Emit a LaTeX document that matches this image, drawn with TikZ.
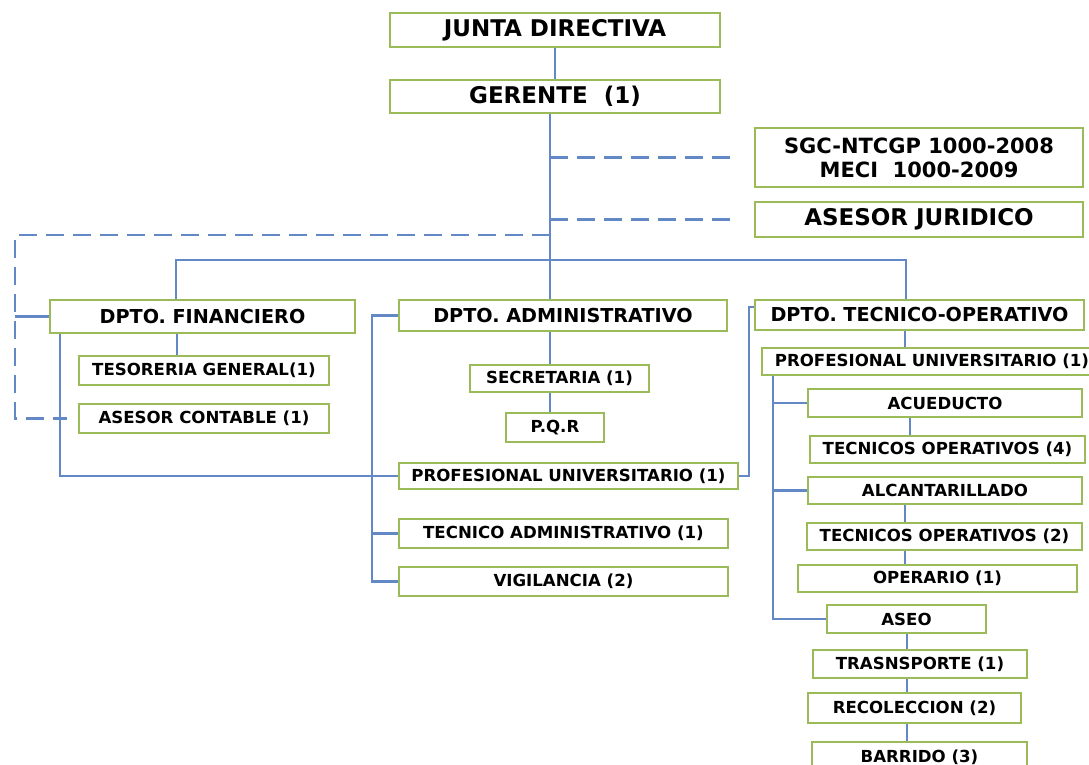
\documentclass[tikz,border=0pt]{standalone}
\usepackage{fontspec}
\setmainfont{DejaVu Sans}
\usetikzlibrary{backgrounds}
\definecolor{boxgreen}{HTML}{9BBB59}
\definecolor{linkblue}{HTML}{6289C6}
\begin{document}
\begin{tikzpicture}[x=1pt,y=-1pt,
  box/.style={draw=boxgreen, line width=2.3pt, fill=white, inner sep=0pt, text=black,
              font=\bfseries\fontsize{16.6}{18}\selectfont},
  midbox/.style={box, font=\bfseries\fontsize{19.2}{21}\selectfont},
  topbox/.style={box, font=\bfseries\fontsize{23}{25}\selectfont},
  conn/.style={draw=linkblue, line width=2.2pt},
  dashline/.style={draw=linkblue, line width=2.2pt, dash pattern=on 18pt off 9pt}]
\useasboundingbox (0,0) rectangle (1089,765);
% top level
\node[topbox, minimum width=330pt, minimum height=34pt] (junta) at (555,30) {JUNTA DIRECTIVA};
\node[topbox, minimum width=330pt, minimum height=33pt] (gerente) at (555,96.5) {GERENTE\ \ (1)};
\node[topbox, minimum width=328pt, minimum height=59pt, align=center,
      font=\bfseries\fontsize{21}{24}\selectfont] (sgc) at (919,157.5) {SGC-NTCGP 1000-2008\\MECI\ \ 1000-2009};
\node[topbox, minimum width=328pt, minimum height=35pt] (juridico) at (919,219.5) {ASESOR JURIDICO};
% departments
\node[midbox, minimum width=305pt, minimum height=33pt] (fin) at (202.5,316.5) {DPTO. FINANCIERO};
\node[midbox, minimum width=328pt, minimum height=31pt] (adm) at (563,315.5) {DPTO. ADMINISTRATIVO};
\node[midbox, minimum width=329pt, minimum height=30pt] (tec) at (919.5,315) {DPTO. TECNICO-OPERATIVO};
% financiero
\node[box, minimum width=250pt, minimum height=29pt] (teso) at (204,370.5) {TESORERIA GENERAL(1)};
\node[box, minimum width=250pt, minimum height=29pt] (contable) at (204,418.5) {ASESOR CONTABLE (1)};
% administrativo
\node[box, minimum width=179pt, minimum height=27pt] (secre) at (559.5,378.5) {SECRETARIA (1)};
\node[box, minimum width=98pt, minimum height=29pt] (pqr) at (555,427.5) {P.Q.R};
\node[box, minimum width=339pt, minimum height=26pt] (profa) at (568.5,476) {PROFESIONAL UNIVERSITARIO (1)};
\node[box, minimum width=329pt, minimum height=29pt] (tecadm) at (563.5,533.5) {TECNICO ADMINISTRATIVO (1)};
\node[box, minimum width=329pt, minimum height=29pt] (vig) at (563.5,581.5) {VIGILANCIA (2)};
% tecnico-operativo
\node[box, minimum width=340pt, minimum height=27pt] (proft) at (932,361.5) {PROFESIONAL UNIVERSITARIO (1)};
\node[box, minimum width=274pt, minimum height=28pt] (acue) at (945,403) {ACUEDUCTO};
\node[box, minimum width=275pt, minimum height=27pt] (tec4) at (947.5,449.5) {TECNICOS OPERATIVOS (4)};
\node[box, minimum width=274pt, minimum height=27pt] (alca) at (945,490.5) {ALCANTARILLADO};
\node[box, minimum width=275pt, minimum height=27pt] (tec2) at (944.5,536.5) {TECNICOS OPERATIVOS (2)};
\node[box, minimum width=279pt, minimum height=27pt] (oper) at (937.5,578.5) {OPERARIO (1)};
\node[box, minimum width=159pt, minimum height=28pt] (aseo) at (906.5,619) {ASEO};
\node[box, minimum width=214pt, minimum height=28pt] (trans) at (920,664) {TRASNSPORTE (1)};
\node[box, minimum width=213pt, minimum height=30pt] (reco) at (914.5,708) {RECOLECCION (2)};
\node[box, minimum width=215pt, minimum height=30pt] (barr) at (919.5,757) {BARRIDO (3)};
% helper coordinates
\coordinate (bus) at (550,260);
\coordinate (dla) at (550,235);
\coordinate (dlb) at (15,235);
\coordinate (ab) at (372,315);
\coordinate (pk) at (749,307);
\coordinate (tb) at (773,375);
\coordinate (tx) at (905,0);
\coordinate (tx2) at (910,0);
\coordinate (tx3) at (907,0);
\begin{scope}[on background layer]
\draw[conn] (junta) -- (gerente);
\draw[conn] ([xshift=-5pt]gerente.south) -- (adm.north -| bus);
\draw[conn] ([xshift=-26.5pt]fin.north) |- (bus) -| ([xshift=-13.5pt]tec.north);
\draw[dashline] (sgc.west -| bus) -- ([xshift=-17pt]sgc.west);
\draw[dashline] (juridico.west -| bus) -- ([xshift=-17pt]juridico.west);
\draw[dashline] (dla) -- (dlb) |- ([xshift=-11pt]contable.west);
\draw[conn] (fin.west) -- (fin.west -| dlb);
\draw[conn] ([xshift=-25.5pt]fin.south) -- ([xshift=-27pt]teso.north);
\draw[conn] ([xshift=-142.5pt]fin.south) |- (profa.west);
\draw[conn] (adm.west) -- (adm.west -| ab) |- (vig.west);
\draw[conn] (tecadm.west -| ab) -- (tecadm.west);
\draw[conn] (adm.south -| bus) -- (secre.north -| bus);
\draw[conn] (secre.south -| bus) -- (pqr.north -| bus);
\draw[conn] (profa.east) -| (pk) -- (pk -| tec.west);
\draw[conn] (tec.south -| tx) -- (proft.north -| tx);
\draw[conn] (proft.south -| tb) |- (aseo.west);
\draw[conn] (acue.west -| tb) -- (acue.west);
\draw[conn] (alca.west -| tb) -- (alca.west);
\draw[conn] (acue.south -| tx2) -- (tec4.north -| tx2);
\draw[conn] (alca.south -| tx) -- (tec2.north -| tx);
\draw[conn] (tec2.south -| tx) -- (oper.north -| tx);
\draw[conn] (aseo.south -| tx3) -- (trans.north -| tx3);
\draw[conn] (trans.south -| tx3) -- (reco.north -| tx3);
\draw[conn] (reco.south -| tx3) -- (barr.north -| tx3);
\end{scope}
\end{tikzpicture}
\end{document}
